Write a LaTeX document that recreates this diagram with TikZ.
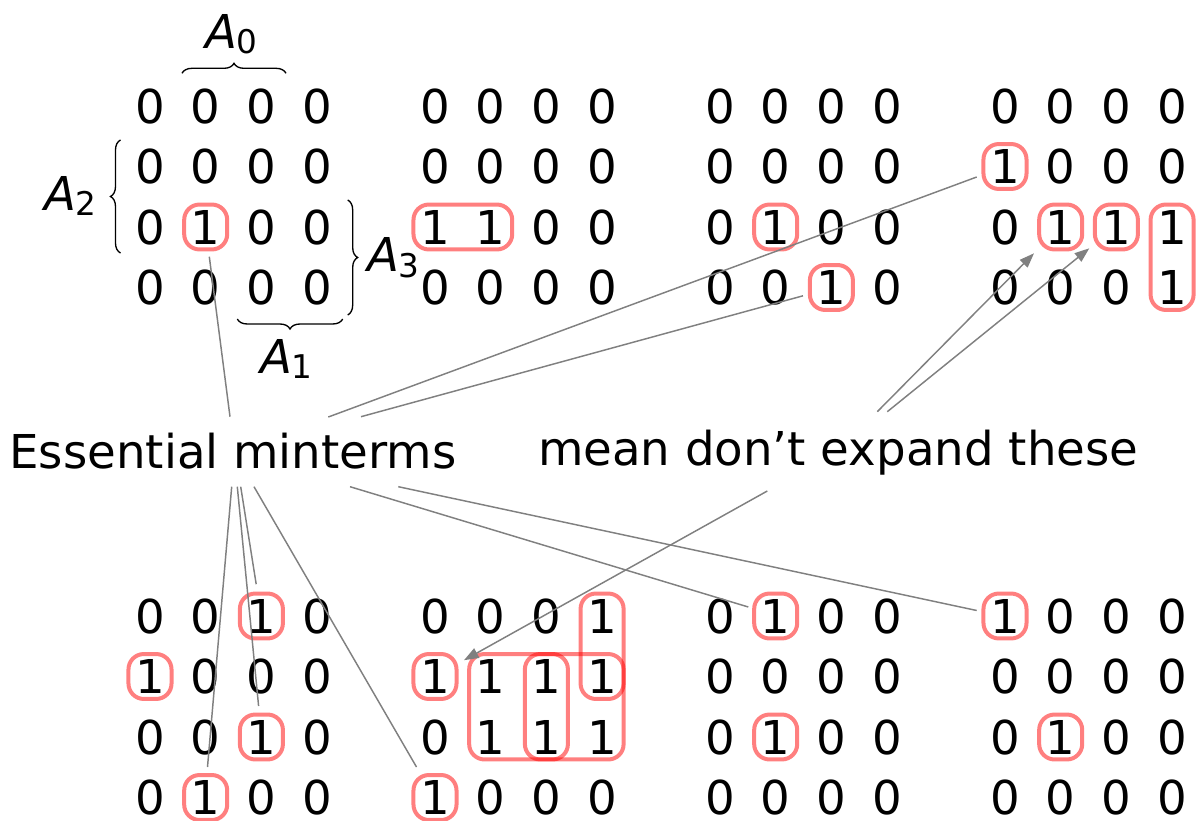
\documentclass[tikz,border=0pt]{standalone}
\usepackage{fontspec}
\setmainfont{DejaVu Sans}
\usetikzlibrary{fit,arrows.meta,decorations.pathreplacing}
\newcommand\Asub[1]{\textit{A}\raisebox{-4.1pt}{\fontsize{24.5}{29}\selectfont #1}}
\begin{document}
\begin{tikzpicture}[x=0.75pt,y=-0.75pt,
  dig/.style={inner sep=0pt, outer sep=0pt, font=\fontsize{35}{42}\selectfont, text height=25.5pt, text depth=0pt},
  mbox/.style={draw=red, draw opacity=0.5, line width=3pt, rounded corners=11.5pt, inner xsep=5pt, inner ysep=4.1pt},
  conn/.style={draw=gray, line width=1.1pt},
  arr/.style={conn, -{Triangle[length=11pt,width=8pt]}, fill=gray},
  lbl/.style={inner sep=0pt, outer sep=0pt, font=\fontsize{35}{42}\selectfont},
  brc/.style={draw=black, decorate, decoration={brace, amplitude=7.5pt}, line width=1pt},
]
\useasboundingbox (0,0) rectangle (1197,821);

% digit matrices
\foreach \p/\px/\py/\m in {
  1/150/106/{{0,0,0,0},{0,0,0,0},{0,1,0,0},{0,0,0,0}},
  2/435/106/{{0,0,0,0},{0,0,0,0},{1,1,0,0},{0,0,0,0}},
  3/720/106/{{0,0,0,0},{0,0,0,0},{0,1,0,0},{0,0,1,0}},
  4/1005/106/{{0,0,0,0},{1,0,0,0},{0,1,1,1},{0,0,0,1}},
  5/150/616/{{0,0,1,0},{1,0,0,0},{0,0,1,0},{0,1,0,0}},
  6/435/616/{{0,0,0,1},{1,1,1,1},{0,1,1,1},{1,0,0,0}},
  7/720/616/{{0,1,0,0},{0,0,0,0},{0,1,0,0},{0,0,0,0}},
  8/1005/616/{{1,0,0,0},{0,0,0,0},{0,1,0,0},{0,0,0,0}}}{
  \foreach \row [count=\ri from 0] in \m {
    \foreach \v [count=\ci from 0] in \row {
      \node[dig] (p\p-\ri-\ci) at (\px+55.7*\ci, \py+60.5*\ri) {\v};
    }
  }
}

% red groupings
\node[mbox, fit=(p1-2-1)] (b1a) {};
\node[mbox, fit=(p2-2-0)(p2-2-1)] (b2a) {};
\node[mbox, fit=(p3-2-1)] (b3a) {};
\node[mbox, fit=(p3-3-2)] (b3b) {};
\node[mbox, fit=(p4-1-0)] (b4a) {};
\node[mbox, fit=(p4-2-1)] (b4b) {};
\node[mbox, fit=(p4-2-2)] (b4c) {};
\node[mbox, fit=(p4-2-3)(p4-3-3)] (b4d) {};
\node[mbox, fit=(p5-0-2)] (b5a) {};
\node[mbox, fit=(p5-1-0)] (b5b) {};
\node[mbox, fit=(p5-2-2)] (b5c) {};
\node[mbox, fit=(p5-3-1)] (b5d) {};
\node[mbox, fit=(p6-0-3)(p6-1-3)] (b6a) {};
\node[mbox, fit=(p6-1-0)] (b6b) {};
\node[mbox, fit=(p6-1-1)(p6-2-3)] (b6c) {};
\node[mbox, fit=(p6-1-2)(p6-2-2)] (b6d) {};
\node[mbox, fit=(p6-3-0)] (b6e) {};
\node[mbox, fit=(p7-0-1)] (b7a) {};
\node[mbox, fit=(p7-2-1)] (b7b) {};
\node[mbox, fit=(p8-0-0)] (b8a) {};
\node[mbox, fit=(p8-2-1)] (b8b) {};

% braces and their labels
\draw[brc] (182,73.3) -- (286,73.3);
\draw[brc] (120.5,253) -- (120.5,140);
\draw[brc] (347.7,200) -- (347.7,315);
\draw[brc] (342.7,319) -- (237.3,319);
\node[lbl, anchor=base west] (a0) at (205,48.3) {\Asub{0}};
\node[lbl, anchor=base west] (a2) at (44,210) {\Asub{2}};
\node[lbl, anchor=base west] (a3) at (367,271.7) {\Asub{3}};
\node[lbl, anchor=base west] (a1) at (260,373.3) {\Asub{1}};

% labels
\node[lbl, anchor=base] (em) at (233,468.3) {Essential minterms};
\node[lbl, anchor=base] (md) at (838.2,465.6) {mean don’t expand these};

% connector end points
\coordinate (em-t1) at (230,416.7);   \coordinate (to-b1a) at (209.3,256.7);
\coordinate (em-t2) at (328.3,417);   \coordinate (to-b4a) at (976.7,177);
\coordinate (em-t3) at (361,416.7);   \coordinate (to-b3b) at (803,295.8);
\coordinate (em-b1) at (231.7,486.7); \coordinate (to-b5d) at (207.5,767);
\coordinate (em-b2) at (237.3,486.7); \coordinate (to-b5c) at (258.6,706);
\coordinate (em-b3) at (240.7,486.7); \coordinate (to-b5a) at (256.2,584.2);
\coordinate (em-b4) at (254,486.7);   \coordinate (to-b6e) at (416.5,767);
\coordinate (em-b5) at (350,486.7);   \coordinate (to-b7a) at (748.3,607);
\coordinate (em-b6) at (398.3,486.7); \coordinate (to-b8a) at (976.7,610.5);
\coordinate (md-t1) at (877.3,411.7); \coordinate (to-b4b) at (1034,253.3);
\coordinate (md-t2) at (887.3,411.7); \coordinate (to-b4c) at (1089.3,248.3);
\coordinate (md-b1) at (767.3,491);   \coordinate (to-b6b) at (464,660.2);

\draw[conn] (em-t1) -- (to-b1a);
\draw[conn] (em-t2) -- (to-b4a);
\draw[conn] (em-t3) -- (to-b3b);
\draw[conn] (em-b1) -- (to-b5d);
\draw[conn] (em-b2) -- (to-b5c);
\draw[conn] (em-b3) -- (to-b5a);
\draw[conn] (em-b4) -- (to-b6e);
\draw[conn] (em-b5) -- (to-b7a);
\draw[conn] (em-b6) -- (to-b8a);
\draw[arr] (md-t1) -- (to-b4b);
\draw[arr] (md-t2) -- (to-b4c);
\draw[arr] (md-b1) -- (to-b6b);
\end{tikzpicture}
\end{document}
